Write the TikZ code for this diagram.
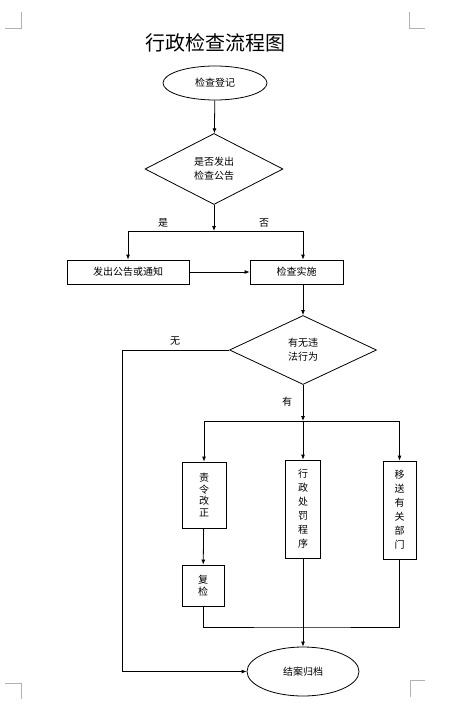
\documentclass[tikz,border=0pt]{standalone}
\usepackage{fontspec}
\setmainfont{Noto Sans CJK SC}
\usetikzlibrary{shapes.geometric,arrows.meta}
\tikzset{
  every node/.style={font=\fontsize{10}{14}\selectfont,inner sep=0pt},
  box/.style={draw,rectangle,align=center},
  oval/.style={draw,ellipse},
  ask/.style={draw,diamond,align=center},
  arr/.style={-{Latex[length=5pt,width=4pt]}},
  crop/.style={draw=black!30,line width=0.6pt}
}
\begin{document}
\begin{tikzpicture}[x=1pt,y=-1pt,line width=0.8pt]
\useasboundingbox (0,0) rectangle (450,711);
% crop marks
\path[crop] (5,28) -- (21,28) -- (21,12);
\path[crop] (409,12) -- (409,28) -- (425,28);
\path[crop] (425,680) -- (410,680) -- (410,697);
\path[crop] (5,683) -- (21,683) -- (21,699);
% title
\node (title) at (215,43) {\fontsize{20}{24}\selectfont 行政检查流程图};
% nodes
\node[oval,minimum width=104pt,minimum height=34pt] (reg) at (215,83) {检查登记};
\node[ask,minimum width=138pt,minimum height=71pt] (pub) at (214,169) {是否发出\\检查公告};
\node[box,minimum width=122pt,minimum height=24pt] (notice) at (128,272) {发出公告或通知};
\node[box,minimum width=93pt,minimum height=24pt] (exec) at (296.5,272) {检查实施};
\node[ask,minimum width=147pt,minimum height=69pt] (ill) at (303,350) {有无违\\法行为};
\node[box,minimum width=44pt,minimum height=66pt,font=\fontsize{10}{11.5}\selectfont] (fix) at (204,495) {责\\令\\改\\正};
\node[box,minimum width=35pt,minimum height=98pt] (pen) at (303,509) {行\\政\\处\\罚\\程\\序};
\node[box,minimum width=33pt,minimum height=98pt] (trans) at (399.5,510) {移\\送\\有\\关\\部\\门};
\node[box,minimum width=42pt,minimum height=41pt,font=\fontsize{10}{12}\selectfont] (recheck) at (203,585.5) {复\\检};
\node[oval,minimum width=112pt,minimum height=49pt] (end) at (303,671.5) {结案归档};
% labels
\node (yes) at (163,223) {是};
\node (no) at (264,223) {否};
\node (none) at (175,341) {无};
\node (has) at (287,402) {有};
% junctions
\coordinate (split1) at (214,231);
\coordinate (split2) at (303,421);
\coordinate (nleft) at (122,671.5);
\coordinate (merge) at (303,627);
% connectors
\draw[arr] (reg) -- (pub);
\draw[arr] (pub) -- (split1);
\draw[arr] (split1) -| (notice.north);
\draw[arr] (split1) -| (exec.north -| ill.north);
\draw[arr] (notice) -- (exec);
\draw[arr] (exec.south -| ill.north) -- (ill.north);
\draw[arr] (ill.west) -| (nleft) -- (end.west);
\draw[arr] (ill) -- (split2);
\draw[arr] (split2) -| (fix.north);
\draw[arr] (split2) -- (pen.north);
\draw[arr] (split2) -| (trans.north);
\draw[arr] (fix) -- (recheck);
\draw (recheck.south) |- (merge) -| (trans.south);
\draw[arr] (pen) -- (end);
\end{tikzpicture}
\end{document}
